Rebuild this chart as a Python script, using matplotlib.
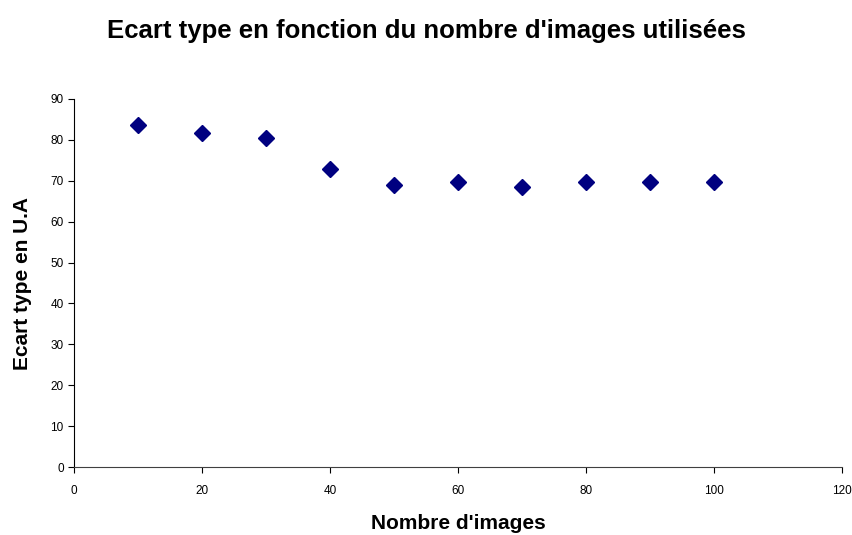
import matplotlib
matplotlib.use("Agg")
import matplotlib.pyplot as plt

plt.rcParams["font.family"] = ["Liberation Sans", "DejaVu Sans"]

nb_images = [10, 20, 30, 40, 50, 60, 70, 80, 90, 100]
ecart_type = [83.6, 81.7, 80.5, 72.8, 68.9, 69.8, 68.4, 69.8, 69.8, 69.8]

fig = plt.figure(figsize=(8.53, 5.35), dpi=100)
ax = fig.add_axes([0.087, 0.127, 0.900, 0.688])

ax.plot(nb_images, ecart_type, linestyle="none", marker="D", markersize=8,
        color="#000080", markeredgecolor="#000080")

ax.set_xlim(0, 120)
ax.set_ylim(0, 90)
ax.set_xticks(range(0, 121, 20))
ax.set_yticks(range(0, 91, 10))
ax.tick_params(labelsize=8.5, direction="out", length=4, width=0.8, colors="black")
ax.tick_params(axis="x", pad=9)
for side in ("top", "right"):
    ax.spines[side].set_visible(False)
ax.spines["left"].set_linewidth(0.8)
ax.spines["bottom"].set_linewidth(0.8)
ax.spines["bottom"].set_color("#404040")

ax.set_xlabel("Nombre d'images", fontsize=15, fontweight="bold")
ax.xaxis.set_label_coords(0.5, -0.152)
ax.xaxis.label.set_va("center")
ax.set_ylabel("Ecart type en U.A", fontsize=15, fontweight="bold")
ax.yaxis.set_label_coords(-0.068, 0.5)
ax.yaxis.label.set_va("center")
fig.text(0.5, 0.942, "Ecart type en fonction du nombre d'images utilisées",
         fontsize=18.5, fontweight="bold", ha="center", va="center")

fig.savefig("out.png", dpi=100)
